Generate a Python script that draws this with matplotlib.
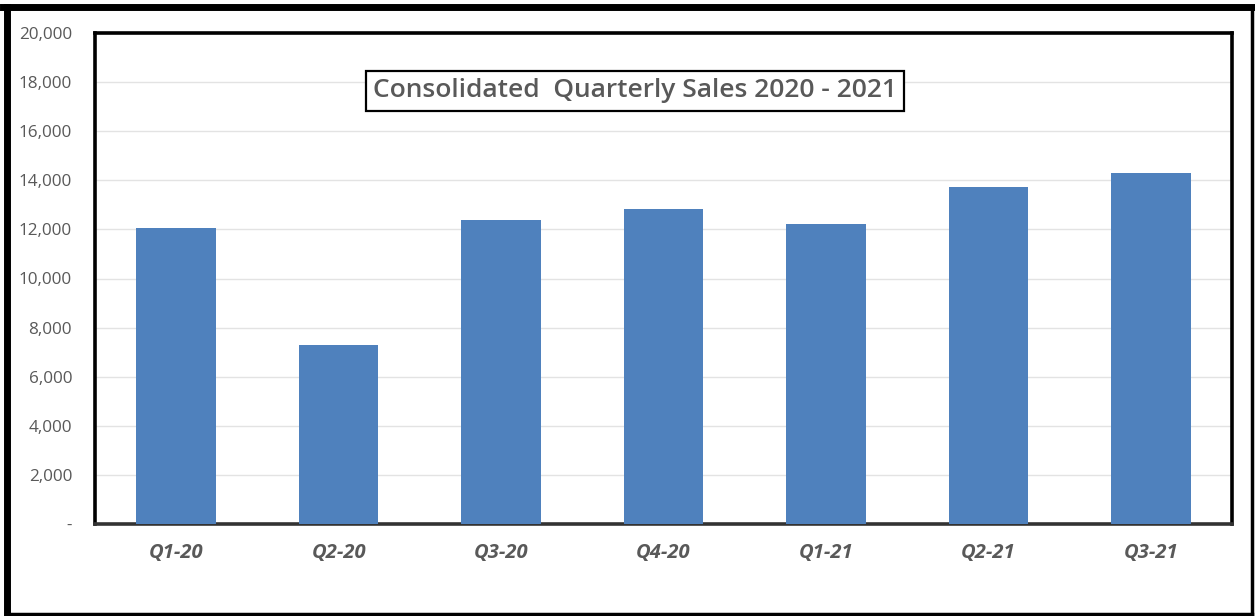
import matplotlib.pyplot as plt
from matplotlib.lines import Line2D
from matplotlib.ticker import FuncFormatter

# quarterly sales
quarters = ["Q1-20", "Q2-20", "Q3-20", "Q4-20", "Q1-21", "Q2-21", "Q3-21"]
sales = [12070, 7290, 12370, 12830, 12220, 13740, 14300]
yticks = list(range(0, 20001, 2000))

grey = "#595959"
plt.rcParams['font.family'] = ['Open Sans', 'DejaVu Sans']

fig = plt.figure(figsize=(12.55, 6.16), dpi=100)
ax = fig.add_axes([95/1255, 1 - 524/616, (1232-95)/1255, (524-33)/616])

x = range(len(quarters))
ax.bar(x, sales, width=0.49, color="#4F81BD", zorder=3)

ax.set_xlim(-0.5, len(quarters) - 0.5)
ax.set_ylim(0, 20000)
ax.set_yticks(yticks)
ax.yaxis.set_major_formatter(FuncFormatter(lambda v, p: "-" if v == 0 else f"{int(v):,}"))
ax.set_xticks(list(x))
ax.set_xticklabels(quarters, fontsize=14.5, fontstyle="italic", fontweight="bold", color=grey)
ax.tick_params(axis="y", length=0, pad=16.5, labelsize=12.3, labelcolor=grey)
ax.tick_params(axis="x", length=0, pad=14)

ax.grid(axis="y", color="#e3e3e3", linewidth=1, zorder=0)
for s in ax.spines.values():
    s.set_linewidth(2.6)
    s.set_color("black")
ax.spines["bottom"].set_color("#333333")

ax.text(0.475, 0.882, "Consolidated  Quarterly Sales 2020 - 2021", transform=ax.transAxes,
        ha="center", va="center", fontsize=19, fontweight="semibold", color=grey,
        bbox=dict(boxstyle="square,pad=0.28", facecolor="white", edgecolor="black", linewidth=1.6),
        zorder=5)

# outer frame, heavier on top and left like the source
fig.add_artist(Line2D([3/1255, 1252/1255], [1 - 7/616, 1 - 7/616], color="black", linewidth=5, transform=fig.transFigure))
fig.add_artist(Line2D([7/1255, 7/1255], [1 - 7/616, 1 - 614/616], color="black", linewidth=5, transform=fig.transFigure))
fig.add_artist(Line2D([1252/1255, 1252/1255], [1 - 7/616, 1 - 614/616], color="black", linewidth=2.5, transform=fig.transFigure))
fig.add_artist(Line2D([7/1255, 1252/1255], [1 - 614/616, 1 - 614/616], color="black", linewidth=2.5, transform=fig.transFigure))

fig.savefig("out.png", dpi=100)
